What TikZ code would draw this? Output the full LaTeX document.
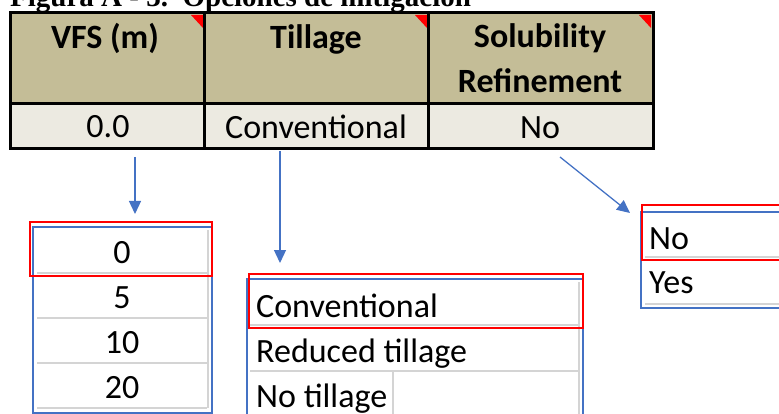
\documentclass[tikz,border=0pt]{standalone}
\usepackage{fontspec}
\setmainfont{Carlito}
\newfontfamily\titlefont{Liberation Serif}
\usetikzlibrary{arrows.meta}
\definecolor{headtan}{RGB}{196,189,151}
\definecolor{valuetan}{RGB}{236,234,225}
\definecolor{pickblue}{RGB}{68,114,196}
\definecolor{cellgray}{RGB}{212,212,212}

\begin{document}
\begin{tikzpicture}[x=1pt,y=-1pt,
        tableline/.style={line width=3pt},
        celltext/.style={anchor=base,inner sep=0pt,font=\fontsize{34}{45}\selectfont},
        headtext/.style={anchor=base,inner sep=0pt,font=\fontsize{34}{45}\selectfont\bfseries},
        itemtext/.style={anchor=base west,inner sep=0pt,font=\fontsize{34}{45}\selectfont},
        listbox/.style={draw=pickblue,line width=1.3pt},
        chosen/.style={draw=red,line width=1.5pt},
        rowline/.style={cellgray,line width=2.5pt},
        pick/.style={pickblue,line width=1.3pt,-{Triangle[length=13pt,width=12pt]}}]
            \useasboundingbox (0,0) rectangle (779,414);
            \clip (0,0) rectangle (779,414);

            \node[anchor=base west,inner sep=0pt,font=\titlefont\bfseries\fontsize{29}{30}\selectfont] (title) at (10,7) {Figura A - 3.\ \ Opciones de mitigación};

            \fill[headtan] (10,13) rectangle (653,104);
            \fill[valuetan] (10,104) rectangle (653,149);
            \foreach \x in {203,427,651}
                \fill[red] (\x-12,15) -- (\x,15) -- (\x,28) -- cycle;
            \draw[tableline] (10,13) rectangle (653,149);
            \draw[tableline] (10,104) -- (653,104);
            \draw[tableline] (204.5,13) -- (204.5,149);
            \draw[tableline] (428.5,13) -- (428.5,149);

            \node[headtext] (vfshead) at (105,49) {VFS (m)};
            \node[headtext] (tillhead) at (316,49) {Tillage};
            \node[headtext,align=center] (solhead) at (540,93) {Solubility\\Refinement};
            \node[celltext] (vfsval) at (108,138) {0.0};
            \node[celltext] (tillval) at (316,139) {Conventional};
            \node[celltext] (solval) at (540,139) {No};

            \coordinate (vfsfrom) at (135,157);
            \coordinate (vfsto) at (135,214);
            \coordinate (tillfrom) at (280,151);
            \coordinate (tillto) at (280,263);
            \coordinate (solfrom) at (560,157);
            \coordinate (solto) at (630,213);
            \draw[pick] (vfsfrom) -- (vfsto);
            \draw[pick] (tillfrom) -- (tillto);
            \draw[pick] (solfrom) -- (solto);

            \draw[listbox] (33,227) rectangle (212,413);
            \foreach \y in {273,318,363,408}
                \draw[rowline] (37,\y) -- (207,\y);
            \draw[rowline] (208,230) -- (208,408);
            \draw[chosen] (30,222) rectangle (212,276);
            \node[celltext] (vfs0) at (122,263) {0};
            \node[celltext] (vfs5) at (122,308) {5};
            \node[celltext] (vfs10) at (122,353) {10};
            \node[celltext] (vfs20) at (122,398) {20};

            \draw[listbox] (247,279) rectangle (583,430);
            \foreach \y in {325,371,416}
                \draw[rowline] (250,\y) -- (578,\y);
            \draw[rowline] (579,282) -- (579,420);
            \draw[rowline] (393,371) -- (393,420);
            \draw[chosen] (249,274) rectangle (583,328);
            \node[itemtext] (tillconv) at (256,317) {Conventional};
            \node[itemtext] (tillred) at (256,362) {Reduced tillage};
            \node[itemtext] (tillno) at (256,407) {No tillage};

            \draw[listbox] (641,212) rectangle (800,308);
            \foreach \y in {257,304}
                \draw[rowline] (645,\y) -- (800,\y);
            \draw[chosen] (642,205) rectangle (800,260);
            \node[itemtext] (solno) at (649,249) {No};
            \node[itemtext] (solyes) at (649,293) {Yes};
        \end{tikzpicture}
\end{document}
